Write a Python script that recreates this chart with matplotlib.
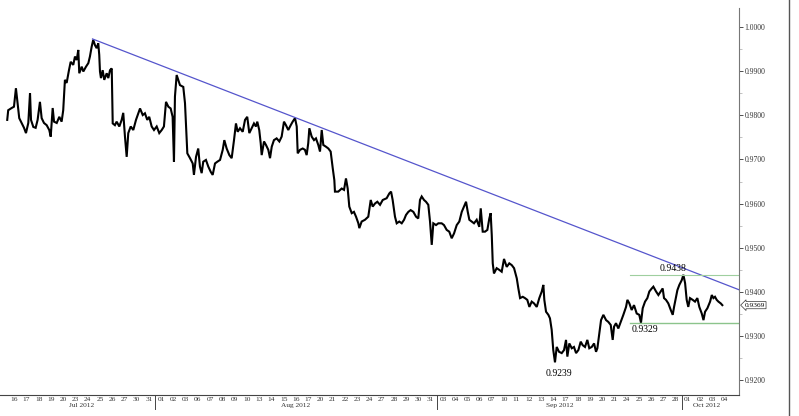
import matplotlib
matplotlib.use("Agg")
import matplotlib.pyplot as plt
import matplotlib.transforms as mtransforms
from matplotlib.lines import Line2D
from matplotlib.ticker import MultipleLocator, FormatStrFormatter

plt.rcParams['font.family'] = ['Liberation Serif', 'DejaVu Serif']

# trading days shown on the axis
jul_days = ['16', '17', '18', '19', '20', '23', '24', '25', '26', '27', '30', '31']
aug_days = ['01', '02', '03', '06', '07', '08', '09', '10', '13', '14', '15', '16',
            '17', '20', '21', '22', '23', '24', '27', '28', '29', '30', '31']
sep_days = ['03', '04', '05', '06', '07', '10', '11', '12', '13', '14', '17', '18',
            '19', '20', '21', '24', '25', '26', '27', '28']
oct_days = ['01', '02', '03', '04']
months = ['Jul 2012', 'Aug 2012', 'Sep 2012', 'Oct 2012']

# price path (time in trading days since 16 Jul, price)
t = [-0.06, 0.02, 0.30, 0.49, 0.65, 0.76, 0.92, 1.12, 1.31, 1.47, 1.66, 1.80, 1.88,
     2.07, 2.26, 2.42, 2.61, 2.75, 2.94, 3.16, 3.37, 3.49, 3.65, 3.76, 3.98, 4.19,
     4.38, 4.51, 4.65, 4.79, 4.98, 5.12, 5.33, 5.47, 5.61, 5.74, 5.82, 6.02, 6.15,
     6.37, 6.56, 6.69, 6.83, 6.96, 7.10, 7.24, 7.37, 7.45, 7.51, 7.59, 7.73, 7.86,
     8.06, 8.19, 8.33, 8.47, 8.55, 8.73, 8.87, 9.09, 9.28, 9.41, 9.55, 9.69, 9.82,
     10.02, 10.23, 10.45, 10.64, 10.78, 11.00, 11.18, 11.37, 11.53, 11.73, 11.92,
     12.14, 12.35, 12.55, 12.73, 12.90, 13.09, 13.28, 13.44, 13.55, 13.63, 13.77,
     13.90, 14.04, 14.31, 14.45, 14.64, 14.86, 15.08, 15.18, 15.35, 15.53, 15.67,
     15.81, 15.94, 16.16, 16.35, 16.55, 16.71, 16.90, 17.09, 17.31, 17.53, 17.66,
     17.85, 18.07, 18.26, 18.45, 18.61, 18.75, 18.94, 19.16, 19.35, 19.53, 19.70,
     19.89, 20.08, 20.24, 20.35, 20.51, 20.63, 20.71, 20.90, 21.06, 21.25, 21.39,
     21.53, 21.71, 21.93, 22.15, 22.34, 22.53, 22.69, 22.88, 23.08, 23.24, 23.43,
     23.57, 23.65, 23.84, 24.06, 24.24, 24.38, 24.51, 24.60, 24.79, 24.98, 25.14,
     25.33, 25.47, 25.61, 25.74, 25.96, 26.15, 26.34, 26.51, 26.64, 26.69, 26.96,
     27.24, 27.43, 27.59, 27.73, 27.86, 28.06, 28.24, 28.41, 28.60, 28.68, 28.87,
     29.14, 29.41, 29.61, 29.77, 29.96, 30.15, 30.37, 30.59, 30.91, 31.13, 31.27,
     31.40, 31.59, 31.73, 31.94, 32.14, 32.33, 32.49, 32.68, 32.87, 33.09, 33.31,
     33.49, 33.63, 33.77, 33.96, 34.12, 34.31, 34.45, 34.59, 34.72, 34.94, 35.13,
     35.40, 35.59, 35.81, 36.02, 36.22, 36.41, 36.63, 36.84, 37.04, 37.22, 37.39,
     37.53, 37.66, 37.85, 38.04, 38.26, 38.47, 38.59, 38.75, 38.94, 39.13, 39.29,
     39.40, 39.49, 39.57, 39.67, 39.89, 40.11, 40.30, 40.49, 40.71, 40.92, 41.12,
     41.31, 41.53, 41.66, 41.80, 42.02, 42.20, 42.39, 42.56, 42.75, 42.94, 43.16,
     43.37, 43.57, 43.70, 43.78, 43.92, 44.11, 44.24, 44.38, 44.51, 44.65, 44.79,
     44.98, 45.20, 45.39, 45.55, 45.66, 45.82, 46.02, 46.20, 46.37, 46.56, 46.75,
     46.91, 47.10, 47.29, 47.45, 47.65, 47.84, 48.00, 48.11, 48.27, 48.41, 48.60,
     48.82, 49.00, 49.20, 49.36, 49.47, 49.63, 49.82, 50.02, 50.23, 50.45, 50.56,
     50.72, 50.91, 51.10, 51.32, 51.53, 51.67, 51.81, 52.00, 52.19, 52.35, 52.55,
     52.68, 52.90, 53.09, 53.28, 53.44, 53.55, 53.71, 53.90, 54.10, 54.26, 54.37,
     54.53, 54.64, 54.80, 55.00, 55.13, 55.27, 55.40, 55.53, 55.67, 55.89, 56.08,
     56.27, 56.43, 56.63, 56.77, 56.90, 57.09, 57.31, 57.45, 57.58, 57.71, 57.85,
     57.99, 58.18, 58.31]
price = [0.9790, 0.9812, 0.9817, 0.9820, 0.9862, 0.9835, 0.9794, 0.9783, 0.9772,
         0.9760, 0.9783, 0.9851, 0.9790, 0.9774, 0.9772, 0.9790, 0.9831, 0.9794,
         0.9783, 0.9778, 0.9767, 0.9752, 0.9817, 0.9786, 0.9783, 0.9797, 0.9786,
         0.9812, 0.9881, 0.9874, 0.9903, 0.9922, 0.9915, 0.9934, 0.9926, 0.9949,
         0.9896, 0.9911, 0.9900, 0.9911, 0.9919, 0.9934, 0.9956, 0.9972, 0.9960,
         0.9953, 0.9964, 0.9938, 0.9900, 0.9885, 0.9903, 0.9881, 0.9896, 0.9885,
         0.9903, 0.9907, 0.9782, 0.9778, 0.9786, 0.9775, 0.9790, 0.9806, 0.9752,
         0.9706, 0.9760, 0.9775, 0.9767, 0.9790, 0.9805, 0.9816, 0.9801, 0.9805,
         0.9790, 0.9797, 0.9775, 0.9767, 0.9775, 0.9760, 0.9767, 0.9775, 0.9831,
         0.9820, 0.9816, 0.9797, 0.9695, 0.9843, 0.9892, 0.9881, 0.9869, 0.9865,
         0.9828, 0.9714, 0.9703, 0.9691, 0.9665, 0.9706, 0.9725, 0.9684, 0.9669,
         0.9695, 0.9699, 0.9684, 0.9672, 0.9665, 0.9691, 0.9695, 0.9699, 0.9722,
         0.9744, 0.9725, 0.9710, 0.9703, 0.9744, 0.9782, 0.9763, 0.9771, 0.9763,
         0.9790, 0.9797, 0.9760, 0.9771, 0.9782, 0.9775, 0.9786, 0.9767, 0.9737,
         0.9710, 0.9741, 0.9733, 0.9722, 0.9703, 0.9729, 0.9744, 0.9748, 0.9741,
         0.9752, 0.9786, 0.9778, 0.9767, 0.9778, 0.9786, 0.9794, 0.9775, 0.9714,
         0.9722, 0.9725, 0.9722, 0.9710, 0.9737, 0.9771, 0.9752, 0.9744, 0.9748,
         0.9733, 0.9718, 0.9767, 0.9733, 0.9729, 0.9725, 0.9718, 0.9680, 0.9653,
         0.9627, 0.9627, 0.9634, 0.9631, 0.9657, 0.9634, 0.9593, 0.9578, 0.9581,
         0.9570, 0.9555, 0.9544, 0.9559, 0.9563, 0.9570, 0.9608, 0.9593, 0.9600,
         0.9604, 0.9597, 0.9608, 0.9612, 0.9623, 0.9627, 0.9608, 0.9570, 0.9555,
         0.9559, 0.9555, 0.9563, 0.9574, 0.9581, 0.9585, 0.9581, 0.9570, 0.9566,
         0.9608, 0.9616, 0.9608, 0.9604, 0.9597, 0.9559, 0.9506, 0.9555, 0.9551,
         0.9555, 0.9555, 0.9551, 0.9540, 0.9536, 0.9521, 0.9532, 0.9551, 0.9559,
         0.9581, 0.9593, 0.9604, 0.9581, 0.9563, 0.9559, 0.9555, 0.9563, 0.9547,
         0.9589, 0.9536, 0.9536, 0.9540, 0.9566, 0.9578, 0.9528, 0.9464, 0.9441,
         0.9453, 0.9449, 0.9445, 0.9474, 0.9456, 0.9464, 0.9460, 0.9453, 0.9430,
         0.9407, 0.9385, 0.9388, 0.9385, 0.9381, 0.9365, 0.9377, 0.9373, 0.9365,
         0.9385, 0.9400, 0.9415, 0.9381, 0.9354, 0.9347, 0.9339, 0.9313, 0.9267,
         0.9239, 0.9274, 0.9263, 0.9260, 0.9267, 0.9290, 0.9252, 0.9282, 0.9271,
         0.9274, 0.9260, 0.9267, 0.9286, 0.9278, 0.9274, 0.9290, 0.9271, 0.9274,
         0.9282, 0.9263, 0.9271, 0.9305, 0.9335, 0.9347, 0.9335, 0.9331, 0.9324,
         0.9290, 0.9320, 0.9328, 0.9316, 0.9331, 0.9347, 0.9365, 0.9381, 0.9373,
         0.9358, 0.9369, 0.9350, 0.9347, 0.9329, 0.9362, 0.9377, 0.9385, 0.9400,
         0.9407, 0.9411, 0.9400, 0.9392, 0.9400, 0.9407, 0.9385, 0.9381, 0.9373,
         0.9358, 0.9347, 0.9365, 0.9388, 0.9403, 0.9415, 0.9426, 0.9438, 0.9419,
         0.9381, 0.9365, 0.9385, 0.9381, 0.9377, 0.9385, 0.9365, 0.9350, 0.9335,
         0.9354, 0.9362, 0.9377, 0.9392, 0.9385, 0.9388, 0.9381, 0.9377, 0.9373,
         0.9369]

# trend line and support / resistance levels
trend_t = [6.9, 59.67]
trend_p = [0.9974, 0.9404]
level_hi = 0.9438
level_lo = 0.9329
level_start = 50.78
low_point = (44.65, 0.9239)
last_price = 0.9369

day_labels = jul_days + aug_days + sep_days + oct_days
month_len = [len(jul_days), len(aug_days), len(sep_days), len(oct_days)]

fig = plt.figure(figsize=(7.99, 4.16), dpi=100)
ax = fig.add_axes([0, 21 / 416, 739 / 799, 387 / 416])
ax.set_xlim(-0.65, 59.67)
ax.set_ylim(0.91648, 1.00443)

ax.plot(t, price, color='black', lw=1.5, solid_joinstyle='miter')
ax.plot(trend_t, trend_p, color='#5555cc', lw=0.9)
ax.plot([level_start, 59.67], [level_hi, level_hi], color='#9fcf9f', lw=0.8)
ax.plot([level_start, 59.67], [level_lo, level_lo], color='#8cc48c', lw=1.0)

ax.text(54.3, level_hi + 0.0004, '0.9438', fontsize=7, ha='center', va='bottom')
ax.text(52.0, level_lo - 0.0004, '0.9329', fontsize=7, ha='center', va='top')
ax.text(low_point[0] + 0.3, low_point[1] - 0.0015, '0.9239', fontsize=7,
        ha='center', va='top')

# axes styling
for s in ['left', 'top']:
    ax.spines[s].set_visible(False)
ax.spines['right'].set_color('#777777')
ax.spines['right'].set_linewidth(0.8)
ax.spines['bottom'].set_color('#444444')
ax.spines['bottom'].set_linewidth(0.8)

ax.yaxis.tick_right()
ax.yaxis.set_major_locator(MultipleLocator(0.01))
ax.yaxis.set_minor_locator(MultipleLocator(0.005))
ax.yaxis.set_major_formatter(FormatStrFormatter('%.4f'))
ax.tick_params(axis='y', which='major', length=3, width=0.6, pad=1,
               labelsize=5.5, colors='#333333')
ax.tick_params(axis='y', which='minor', length=2, width=0.5, color='#aaaaaa')

ax.set_xticks([i + 0.5 for i in range(len(day_labels))])
ax.set_xticklabels(day_labels)
ax.tick_params(axis='x', length=0, pad=1.5, labelsize=5.3, colors='#333333')

# month labels and separators
trans = mtransforms.blended_transform_factory(ax.transData, ax.transAxes)
start = 0
for name, n in zip(months, month_len):
    lo = max(start, -0.65)
    mid = (lo + min(start + n, 59.67)) / 2
    ax.text(mid, -10.5 / 387, name, transform=trans, fontsize=5.3,
            ha='center', va='center', color='#333333')
    if start > 0:
        ax.add_line(Line2D([start, start], [0, -14 / 387], transform=trans,
                           color='#444444', lw=0.7, clip_on=False))
    start += n

# last price tag
ax.annotate('0.9369', xy=(1.0, last_price), xycoords=('axes fraction', 'data'),
            xytext=(4, 0), textcoords='offset points', fontsize=5.3, va='center',
            ha='left', annotation_clip=False,
            bbox=dict(boxstyle='larrow,pad=0.15', fc='white', ec='#333333', lw=0.5))

# outer frame line on the right
fig.add_artist(Line2D([789 / 799, 789 / 799], [0, 1], color='#555555', lw=1.0))

fig.savefig('out.png', dpi=100)
